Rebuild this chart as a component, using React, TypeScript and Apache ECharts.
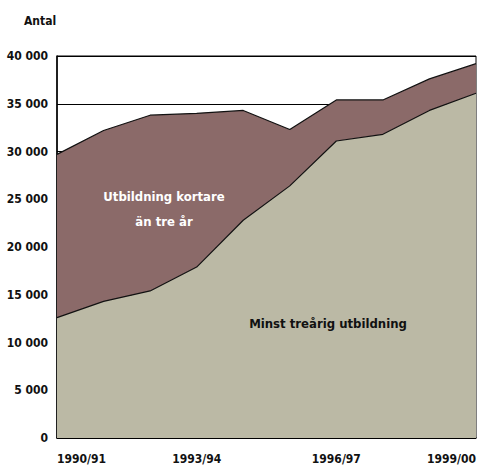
import React, { useEffect, useRef } from "react";
import * as echarts from "echarts";

const categories = ["1990/91", "1991/92", "1992/93", "1993/94", "1994/95", "1995/96", "1996/97", "1997/98", "1998/99", "1999/00"];
const minstTrearig = [12600, 14300, 15400, 17900, 22800, 26400, 31100, 31800, 34300, 36100];
const kortare = [17100, 17900, 18400, 16100, 11500, 5900, 4300, 3600, 3300, 3100];
const yTicks = [0, 5000, 10000, 15000, 20000, 25000, 30000, 35000, 40000];

const FONT = "'DejaVu Sans Condensed', 'DejaVu Sans', sans-serif";

const fmt = (v: number) => (v === 0 ? "0" : `${Math.floor(v / 1000)} ${String(v % 1000).padStart(3, "0")}`);

export default function App() {
  const ref = useRef<HTMLDivElement>(null);
  useEffect(() => {
    if (!ref.current) return;
    const chart = echarts.init(ref.current, undefined, { renderer: "svg" });
    chart.setOption({
      animation: false,
      backgroundColor: "#ffffff",
      textStyle: { fontFamily: FONT },
      grid: { left: 57, top: 56, right: 4, bottom: 28, show: true, borderColor: "#000", borderWidth: 1, backgroundColor: "transparent" },
      xAxis: {
        type: "category",
        data: categories,
        boundaryGap: false,
        axisLine: { lineStyle: { color: "#000", width: 1.5 } },
        axisTick: { show: false },
        axisLabel: {
          interval: 2,
          color: "#111",
          fontFamily: FONT,
          fontWeight: "bold",
          fontSize: 12,
          margin: 15,
          alignMinLabel: "left",
          alignMaxLabel: "right",
        },
        splitLine: { show: false },
      },
      yAxis: {
        type: "value",
        min: yTicks[0],
        max: yTicks[yTicks.length - 1],
        interval: 5000,
        axisLine: { show: true, lineStyle: { color: "#000", width: 1.5 } },
        axisTick: { show: false },
        axisLabel: { color: "#111", fontFamily: FONT, fontWeight: "bold", fontSize: 12, margin: 9, formatter: (v: number) => fmt(v) },
        splitLine: { show: true, lineStyle: { color: "#000", width: 1 } },
      },
      series: [
        {
          name: "Minst treårig utbildning",
          type: "line",
          stack: "total",
          data: minstTrearig,
          symbol: "none",
          lineStyle: { color: "#111", width: 1.2 },
          areaStyle: { color: "#bbb9a5", opacity: 1 },
        },
        {
          name: "Utbildning kortare än tre år",
          type: "line",
          stack: "total",
          data: kortare,
          symbol: "none",
          lineStyle: { color: "#111", width: 1.2 },
          areaStyle: { color: "#8b6a69", opacity: 1 },
        },
      ],
      graphic: [
        { type: "text", left: 24, top: 15, z: 100, style: { text: "Antal", fill: "#111", font: `bold 12px ${FONT}` } },
        {
          type: "text",
          x: 164,
          y: 209,
          z: 100,
          style: { text: "Utbildning kortare\nän tre år", fill: "#ffffff", font: `bold 13px ${FONT}`, align: "center", verticalAlign: "middle", lineHeight: 25 },
        },
        {
          type: "text",
          x: 328,
          y: 323,
          z: 100,
          style: { text: "Minst treårig utbildning", fill: "#111", font: `bold 13px ${FONT}`, align: "center", verticalAlign: "middle" },
        },
      ],
    });
    return () => chart.dispose();
  }, []);
  return <div ref={ref} style={{ width: 480, height: 466, position: "absolute", left: 0, top: 0 }} />;
}
